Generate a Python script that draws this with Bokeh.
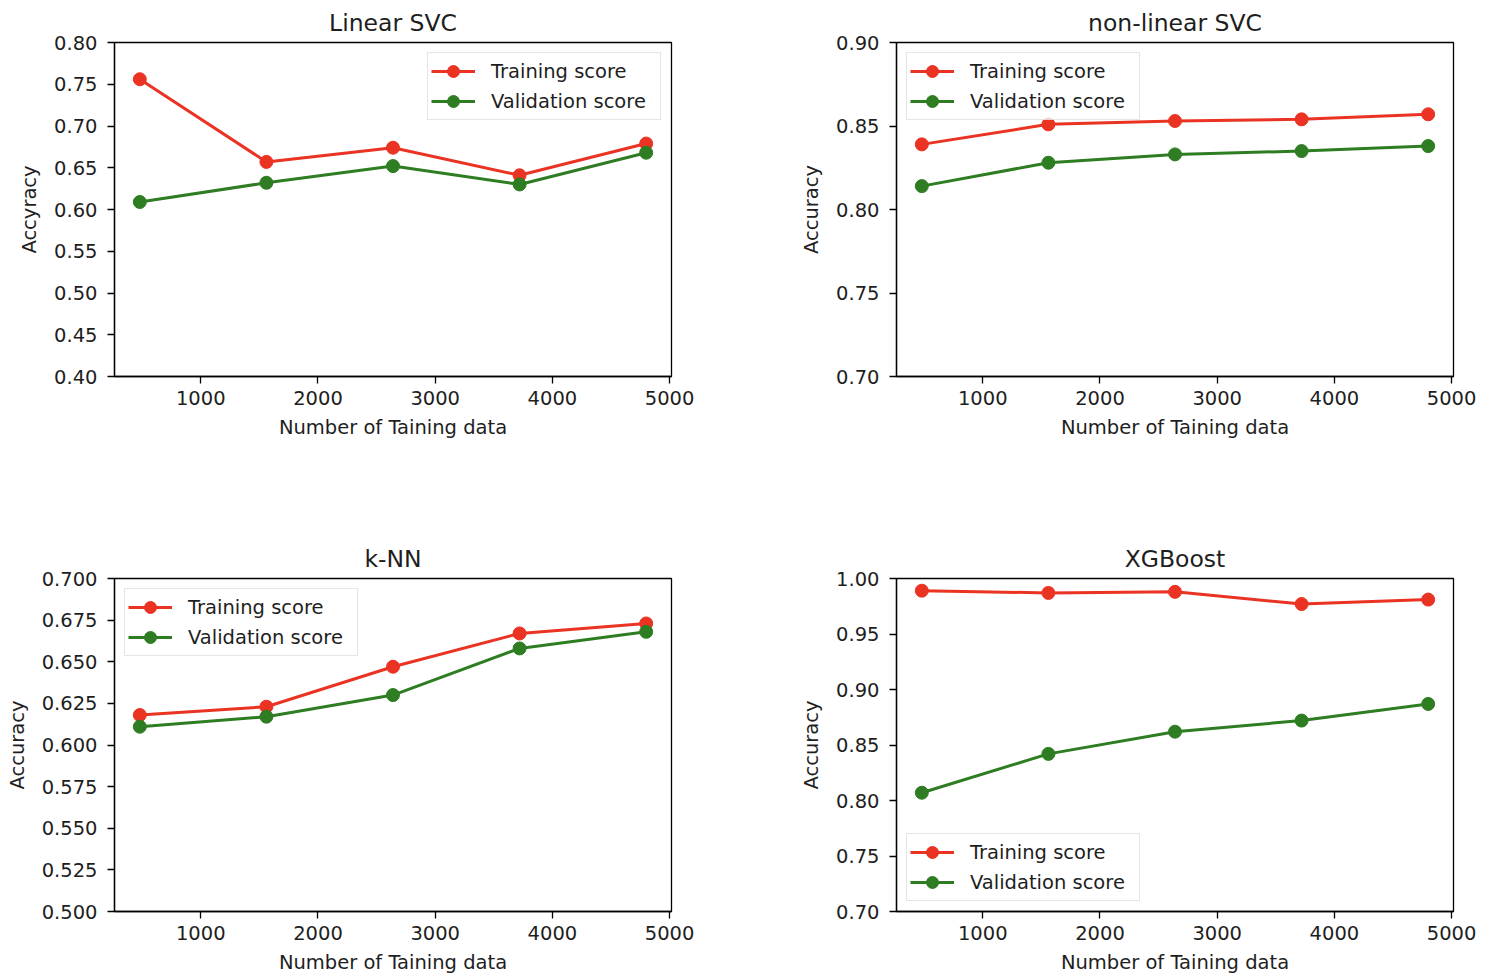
from bokeh.plotting import figure
from bokeh.layouts import column, row
from bokeh.models import Range1d, FixedTicker, NumeralTickFormatter, Legend, LegendItem
from bokeh.embed import file_html
from bokeh.resources import INLINE

# ---- data ----
train_sizes = [480, 1560, 2640, 3720, 4800]

linear_train = [0.756, 0.657, 0.674, 0.641, 0.679]
linear_val = [0.609, 0.632, 0.652, 0.630, 0.668]

nonlin_train = [0.839, 0.851, 0.853, 0.854, 0.857]
nonlin_val = [0.814, 0.828, 0.833, 0.835, 0.838]

knn_train = [0.618, 0.623, 0.647, 0.667, 0.673]
knn_val = [0.611, 0.617, 0.630, 0.658, 0.668]

xgb_train = [0.989, 0.987, 0.988, 0.977, 0.981]
xgb_val = [0.807, 0.842, 0.862, 0.872, 0.887]

x_ticks = [1000, 2000, 3000, 4000, 5000]
linear_yticks = [0.40, 0.45, 0.50, 0.55, 0.60, 0.65, 0.70, 0.75, 0.80]
nonlin_yticks = [0.70, 0.75, 0.80, 0.85, 0.90]
knn_yticks = [0.500, 0.525, 0.550, 0.575, 0.600, 0.625, 0.650, 0.675, 0.700]
xgb_yticks = [0.70, 0.75, 0.80, 0.85, 0.90, 0.95, 1.00]

series_labels = ["Training score", "Validation score"]
x_label = "Number of Taining data"

RED = "#ea3323"
GREEN = "#2e7d22"
FONT = "DejaVu Sans"
TXT = "#1e1e1e"
FS = "19.5px"


def make(title, ylabel, train, val, yr, yticks, yfmt, legend_loc,
         width, height, bl, br, bt, bb):
    p = figure(width=width, height=height, output_backend="svg",
               toolbar_location=None,
               x_range=Range1d(264, 5016), y_range=Range1d(*yr),
               min_border_left=bl, min_border_right=br,
               min_border_top=bt, min_border_bottom=bb,
               title=title)
    p.title.text_font = FONT
    p.title.text_font_size = "23.5px"
    p.title.text_font_style = "normal"
    p.title.text_color = TXT
    p.title.align = "center"
    p.title.standoff = 11

    p.grid.visible = False
    p.outline_line_color = "black"
    p.outline_line_width = 1.3
    p.outline_line_alpha = 1.0
    p.background_fill_color = "white"
    p.border_fill_color = "white"

    for ax in (p.xaxis[0], p.yaxis[0]):
        ax.axis_line_color = "black"
        ax.axis_line_width = 1.3
        ax.major_tick_line_color = "black"
        ax.major_tick_line_width = 1.3
        ax.major_tick_in = 0
        ax.major_tick_out = 7
        ax.minor_tick_line_color = None
        ax.major_label_text_font = FONT
        ax.major_label_text_font_size = FS
        ax.major_label_text_color = TXT
        ax.axis_label_text_font = FONT
        ax.axis_label_text_font_size = FS
        ax.axis_label_text_font_style = "normal"
        ax.axis_label_text_color = TXT

    p.xaxis.ticker = FixedTicker(ticks=x_ticks)
    p.xaxis.formatter = NumeralTickFormatter(format="0")
    p.xaxis.axis_label = x_label
    p.xaxis.major_label_standoff = 7
    p.xaxis.axis_label_standoff = 8

    p.yaxis.ticker = FixedTicker(ticks=yticks)
    p.yaxis.formatter = NumeralTickFormatter(format=yfmt)
    p.yaxis.axis_label = ylabel
    p.yaxis.major_label_standoff = 10
    p.yaxis.axis_label_standoff = 10

    items = []
    for ys, col, lab in ((train, RED, series_labels[0]), (val, GREEN, series_labels[1])):
        ln = p.line(train_sizes, ys, line_color=col, line_width=3)
        sc = p.scatter(train_sizes, ys, marker="circle", size=13,
                       fill_color=col, line_color=col)
        items.append(LegendItem(label=lab, renderers=[ln, sc]))

    leg = Legend(items=items, location=legend_loc)
    leg.label_text_font = FONT
    leg.label_text_font_size = FS
    leg.label_text_color = TXT
    leg.glyph_width = 44
    leg.glyph_height = 30
    leg.label_height = 30
    leg.label_width = 166
    leg.spacing = 0
    leg.padding = 3
    leg.label_standoff = 16
    leg.margin = 10
    leg.border_line_color = "#cccccc"
    leg.border_line_width = 1.3
    leg.background_fill_color = "white"
    leg.background_fill_alpha = 0.8
    p.add_layout(leg)
    return p


p1 = make("Linear SVC", "Accyracy", linear_train, linear_val, (0.40, 0.80),
          linear_yticks, "0.00", "top_right", 780, 536, 114, 109, 42, 160)
p2 = make("non-linear SVC", "Accuracy", nonlin_train, nonlin_val, (0.70, 0.90),
          nonlin_yticks, "0.00", "top_left", 708, 536, 116, 35, 42, 160)
p3 = make("k-NN", "Accuracy", knn_train, knn_val, (0.50, 0.70),
          knn_yticks, "0.000", "top_left", 780, 440, 114, 109, 42, 64)
p4 = make("XGBoost", "Accuracy", xgb_train, xgb_val, (0.70, 1.00),
          xgb_yticks, "0.00", "bottom_left", 708, 440, 116, 35, 42, 64)

layout = column(row(p1, p2), row(p3, p4))

open("out.html", "w").write(file_html(layout, INLINE))
